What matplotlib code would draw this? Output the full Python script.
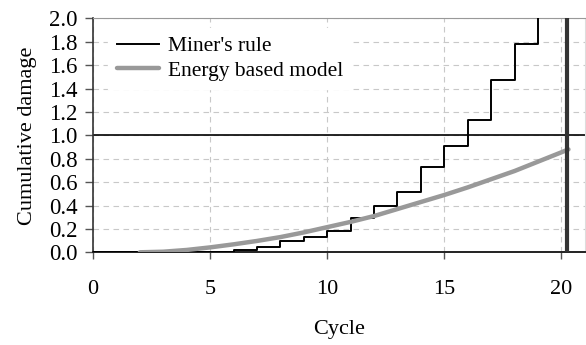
import matplotlib
matplotlib.use("Agg")
import matplotlib.pyplot as plt

plt.rcParams['font.family'] = ['Liberation Serif', 'DejaVu Serif']
plt.rcParams['font.size'] = 16

# Miner's rule: cumulative damage after each cycle (step function)
miner_cycles = [0, 1, 2, 3, 4, 5, 6, 7, 8, 9, 10, 11, 12, 13, 14, 15, 16, 17, 18, 19, 20]
miner_damage = [0.0, 0.0, 0.0, 0.0, 0.0, 0.0, 0.022, 0.045, 0.095, 0.133, 0.185,
                0.296, 0.398, 0.518, 0.726, 0.911, 1.135, 1.47, 1.78, 2.35, 2.8]

# Energy based model
energy_cycles = [2, 3, 4, 5, 6, 7, 8, 9, 10, 11, 12, 13, 14, 15, 16, 17, 18, 19, 20, 20.3]
energy_damage = [0.0, 0.005, 0.02, 0.042, 0.068, 0.097, 0.13, 0.17, 0.215, 0.26,
                 0.31, 0.37, 0.43, 0.49, 0.555, 0.625, 0.695, 0.775, 0.855, 0.88]

failure_cycle = 20.22
x_ticks = [0, 5, 10, 15, 20]
y_ticks = [0.0, 0.2, 0.4, 0.6, 0.8, 1.0, 1.2, 1.4, 1.6, 1.8, 2.0]

fig = plt.figure(figsize=(5.86, 3.45), dpi=100)
ax = fig.add_axes([0.1587, 0.2687, 0.8393, 0.678])

ax.grid(True, color='#c8c8c8', linestyle=(0, (5, 4)), linewidth=0.8)
ax.set_axisbelow(True)

ax.step(miner_cycles, miner_damage, where='post', color='black', lw=1.4,
        label="Miner's rule", zorder=3)
ax.plot(energy_cycles, energy_damage, color='#999999', lw=3.2,
        solid_capstyle='round', label='Energy based model', zorder=4)
ax.axhline(1.0, color='black', lw=1.2, zorder=2)
ax.axvline(failure_cycle, color='#333333', lw=3.0, zorder=5)

ax.set_xlim(0, 21)
ax.set_ylim(0, 2.0)
ax.set_xticks(x_ticks)
ax.set_yticks(y_ticks)
ax.set_yticklabels([f"{v:.1f}" for v in y_ticks])

ax.tick_params(axis='y', direction='out', length=6, width=1, color='#555555',
               pad=5, labelsize=16.5)
ax.tick_params(axis='x', direction='out', length=5, width=1, color='#555555',
               pad=15, labelsize=16)

ax.spines['top'].set_color('#999999')
ax.spines['right'].set_color('#dddddd')
ax.spines['left'].set_color('#333333')
ax.spines['bottom'].set_color('#222222')
ax.spines['left'].set_linewidth(1.2)
ax.spines['bottom'].set_linewidth(1.4)

ax.set_xlabel('Cycle', labelpad=15)
ax.set_ylabel('Cumulative damage', labelpad=9)

leg = ax.legend(loc='upper left', bbox_to_anchor=(0.0305, 0.961), frameon=True,
                fancybox=False, edgecolor='white', framealpha=1.0,
                handlelength=1.95, handletextpad=0.45, labelspacing=0.2,
                borderaxespad=0.0, fontsize=15.5)
leg.set_zorder(6)

fig.savefig('out.png', dpi=100)
